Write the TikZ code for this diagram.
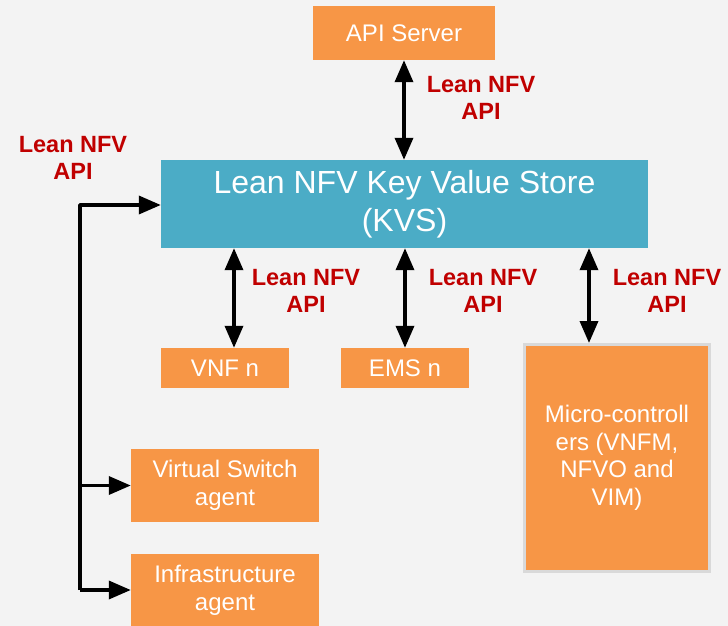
\documentclass[tikz,border=0pt]{standalone}
\usepackage{fontspec}
\setmainfont{Liberation Sans}
\usepackage{xcolor}
\usetikzlibrary{arrows.meta, positioning}
\definecolor{canvas}{RGB}{243, 243, 243}
\definecolor{boxorange}{RGB}{247, 150, 70}
\definecolor{storeblue}{RGB}{75, 172, 198}
\definecolor{apired}{RGB}{192, 0, 0}
\definecolor{frame}{RGB}{217, 217, 217}

\begin{document}
\begin{tikzpicture}[x=1pt, y=-1pt, >={Triangle[length=22pt, width=18pt]},
    box/.style={rectangle, fill=boxorange, text=white, inner sep=0pt, align=center, font=\fontsize{24}{28}\selectfont},
    apilabel/.style={text=apired, align=center, font=\bfseries\fontsize{23.5}{27}\selectfont},
    link/.style={line width=3.5pt, line join=round, color=black}]
        % canvas
        \fill[canvas] (0,0) rectangle (728,626);
        \useasboundingbox (0,0) rectangle (728,626);

        % Boxes
        \node[box, minimum width=182pt, minimum height=54pt] (server) at (404,33) {API Server};
        \node[box, fill=storeblue, minimum width=487pt, minimum height=88pt, font=\fontsize{32}{38}\selectfont] (kvs) at (404.5,204) {Lean NFV Key Value Store\\(KVS)};
        \node[box, minimum width=128pt, minimum height=40pt] (vnf) at (225,368) {VNF n};
        \node[box, minimum width=128pt, minimum height=40pt] (ems) at (405,368) {EMS n};
        \node[box, draw=frame, line width=3pt, minimum width=185pt, minimum height=227pt, font=\fontsize{24}{27.5}\selectfont] (micro) at (617,458) {Micro-controll\\ers (VNFM,\\NFVO and\\VIM)};
        \node[box, minimum width=188pt, minimum height=73pt] (vswitch) at (225,485.5) {Virtual Switch\\agent};
        \node[box, minimum width=188pt, minimum height=72pt] (infra) at (225,590) {Infrastructure\\agent};

        % Lean NFV API links
        \draw[link, <->] (server) -- (kvs.north -| server);
        \draw[link, <->] ([xshift=9pt]vnf.north |- kvs.south) -- ([xshift=9pt]vnf.north);
        \draw[link, <->] (ems.north |- kvs.south) -- (ems.north);
        \draw[link, <->] ([xshift=-28pt]micro.north |- kvs.south) -- ([xshift=-28pt]micro.north);

        % agent bus
        \coordinate (bustop) at (80,205);
        \coordinate (busbottom) at (80,590);
        \draw[link, ->] (busbottom) -- (bustop) -- (kvs.west |- bustop);
        \draw[link, ->] (vswitch.west -| bustop) -- (vswitch.west);
        \draw[link, ->] (busbottom) -- (infra.west);

        % labels
        \node[apilabel] (lblserver) at (481,98) {Lean NFV\\API};
        \node[apilabel] (lblbus) at (73,158) {Lean NFV\\API};
        \node[apilabel] (lblvnf) at (306,291) {Lean NFV\\API};
        \node[apilabel] (lblems) at (483,291) {Lean NFV\\API};
        \node[apilabel] (lblmicro) at (667,291) {Lean NFV\\API};
    \end{tikzpicture}
\end{document}
